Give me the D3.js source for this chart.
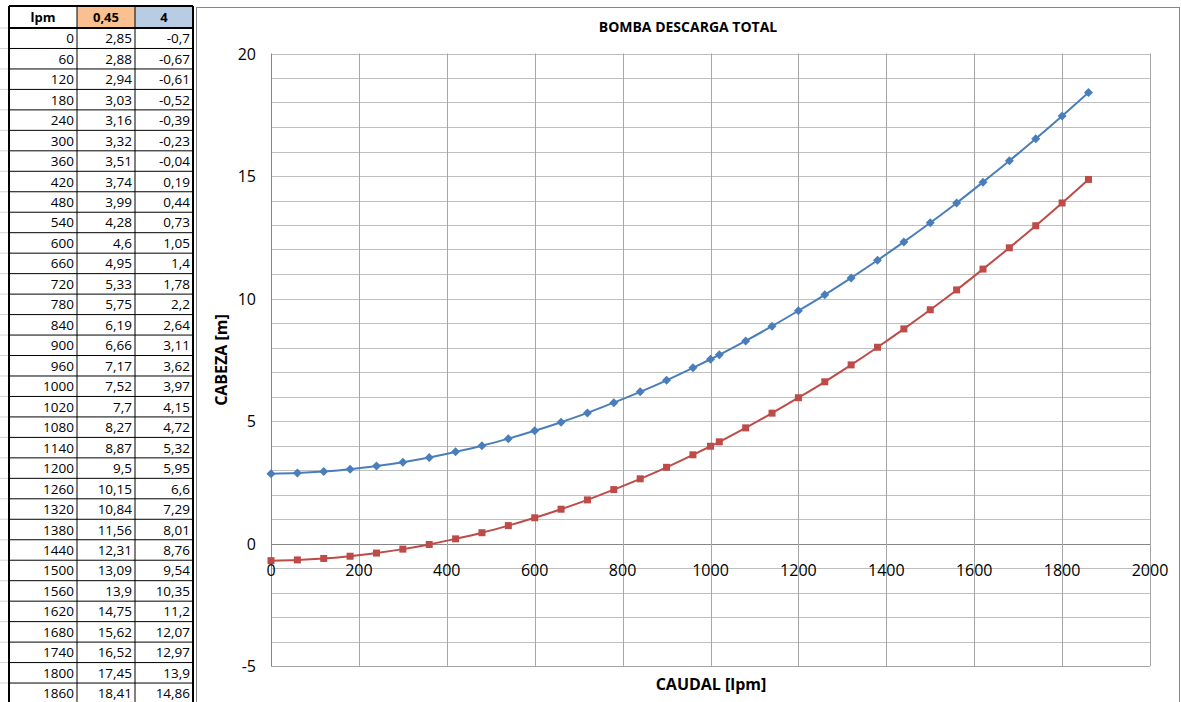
<!DOCTYPE html>
<html><head><meta charset="utf-8">
<script src="https://cdn.jsdelivr.net/npm/d3@7"></script>
<style>body{margin:0;background:#fff}svg{display:block}</style>
</head><body>
<script>
const lpm = [0,60,120,180,240,300,360,420,480,540,600,660,720,780,840,900,960,1000,1020,1080,1140,1200,1260,1320,1380,1440,1500,1560,1620,1680,1740,1800,1860];
const serieA = [2.85,2.88,2.94,3.03,3.16,3.32,3.51,3.74,3.99,4.28,4.6,4.95,5.33,5.75,6.19,6.66,7.17,7.52,7.7,8.27,8.87,9.5,10.15,10.84,11.56,12.31,13.09,13.9,14.75,15.62,16.52,17.45,18.41];
const serieB = [-0.7,-0.67,-0.61,-0.52,-0.39,-0.23,-0.04,0.19,0.44,0.73,1.05,1.4,1.78,2.2,2.64,3.11,3.62,3.97,4.15,4.72,5.32,5.95,6.6,7.29,8.01,8.76,9.54,10.35,11.2,12.07,12.97,13.9,14.86];
const headers = ["lpm","0,45","4"];
const xTicks = [0,200,400,600,800,1000,1200,1400,1600,1800,2000];
const yTicks = [-5,0,5,10,15,20];
const yMinor = d3.range(-5,21,1);
const title = "BOMBA DESCARGA TOTAL";
const xTitle = "CAUDAL [lpm]";
const yTitle = "CABEZA [m]";

const W=1181,H=702;
const svg=d3.select("body").append("svg").attr("width",W).attr("height",H);
const fmt = v => String(v).replace(".",",");

// ---- table ----
const colX=[9,77,135,193];
const headTop=6, headBot=28, rowH=20.47;
const tbl=svg.append("g").attr("font-family","'Open Sans',sans-serif").attr("font-size",13.5);
for(let i=0;i<=lpm.length;i++){
  const yy=headBot+i*rowH;
  tbl.append("line").attr("x1",0).attr("x2",colX[0]).attr("y1",yy).attr("y2",yy).attr("stroke","#d4d4d4");
}
const hdrFill=["#ffffff","#fac090","#b8cce4"];
headers.forEach((h,i)=>{
  tbl.append("rect").attr("x",colX[i]).attr("y",headTop).attr("width",colX[i+1]-colX[i]).attr("height",headBot-headTop).attr("fill",hdrFill[i]);
  tbl.append("text").attr("x",(colX[i]+colX[i+1])/2).attr("y",(headTop+headBot)/2+4.5).attr("text-anchor","middle").attr("font-weight","bold").attr("font-size",13).text(h);
});
const rows=lpm.map((v,i)=>[v,serieA[i],serieB[i]]);
rows.forEach((r,ri)=>{
  const y0=headBot+ri*rowH;
  r.forEach((v,ci)=>{
    tbl.append("text").attr("x",colX[ci+1]-3).attr("y",y0+rowH/2+5).attr("text-anchor","end").text(fmt(v));
  });
});
for(let i=0;i<=lpm.length;i++){
  const yy=headBot+i*rowH;
  tbl.append("line").attr("x1",colX[0]).attr("x2",colX[3]).attr("y1",yy).attr("y2",yy).attr("stroke","#000").attr("stroke-width",i===0?2:1);
}
tbl.append("line").attr("x1",colX[0]).attr("x2",colX[3]).attr("y1",headTop).attr("y2",headTop).attr("stroke","#000").attr("stroke-width",2);
colX.forEach((xx,i)=>{
  tbl.append("line").attr("x1",xx).attr("x2",xx).attr("y1",headTop).attr("y2",H).attr("stroke","#000").attr("stroke-width",(i===0||i===3)?2:1);
});

// ---- chart ----
svg.append("rect").attr("x",196.5).attr("y",7.5).attr("width",983).attr("height",710).attr("fill","#fff").attr("stroke","#868686");

const x=d3.scaleLinear().domain([0,2000]).range([271,1150]);
const y=d3.scaleLinear().domain([-5,20]).range([666,53.5]);
const g=svg.append("g");
g.selectAll(".hg").data(yMinor).join("line")
  .attr("x1",x(0)).attr("x2",x(2000)).attr("y1",d=>Math.round(y(d))+0.5).attr("y2",d=>Math.round(y(d))+0.5)
  .attr("stroke",d=>d===0?"#868686":"#bfbfbf");
g.selectAll(".vg").data(xTicks).join("line")
  .attr("x1",d=>Math.round(x(d))+0.5).attr("x2",d=>Math.round(x(d))+0.5).attr("y1",y(20)).attr("y2",y(-5))
  .attr("stroke",d=>d===0?"#868686":"#a6a6a6");
g.append("line").attr("x1",x(0)).attr("x2",x(2000)).attr("y1",Math.round(y(-5))+0.5).attr("y2",Math.round(y(-5))+0.5).attr("stroke","#a6a6a6");

const lab=svg.append("g").attr("font-family","'Open Sans',sans-serif").attr("font-size",16).attr("fill","#000");
lab.selectAll(".yl").data(yTicks).join("text").attr("x",256).attr("y",d=>y(d)+6).attr("text-anchor","end").text(d=>d);
lab.selectAll(".xl").data(xTicks).join("text").attr("x",d=>x(d)).attr("y",y(0)+32).attr("text-anchor","middle").text(d=>d);

svg.append("text").attr("x",688).attr("y",32).attr("text-anchor","middle").attr("font-family","'Open Sans',sans-serif").attr("font-weight","bold").attr("font-size",14).text(title);
svg.append("text").attr("x",711).attr("y",690).attr("text-anchor","middle").attr("font-family","'Open Sans',sans-serif").attr("font-weight","bold").attr("font-size",16).text(xTitle);
svg.append("text").attr("transform","translate(227,360) rotate(-90)").attr("text-anchor","middle").attr("font-family","'Open Sans',sans-serif").attr("font-weight","bold").attr("font-size",16).text(yTitle);

const line=d3.line().x(d=>x(d[0])).y(d=>y(d[1])).curve(d3.curveCatmullRom);
const dA=lpm.map((v,i)=>[v,serieA[i]]);
const dB=lpm.map((v,i)=>[v,serieB[i]]);
svg.append("path").datum(dA).attr("d",line).attr("fill","none").attr("stroke","#4a7ebb").attr("stroke-width",2);
svg.append("path").datum(dB).attr("d",line).attr("fill","none").attr("stroke","#be4b48").attr("stroke-width",2);
svg.selectAll(".ma").data(dA).join("path")
  .attr("d","M0,-4.5L4.5,0L0,4.5L-4.5,0Z").attr("transform",d=>`translate(${x(d[0])},${y(d[1])})`).attr("fill","#4a7ebb");
svg.selectAll(".mb").data(dB).join("rect")
  .attr("x",d=>x(d[0])-3.5).attr("y",d=>y(d[1])-3.5).attr("width",7).attr("height",7).attr("fill","#be4b48");
</script>
</body></html>
